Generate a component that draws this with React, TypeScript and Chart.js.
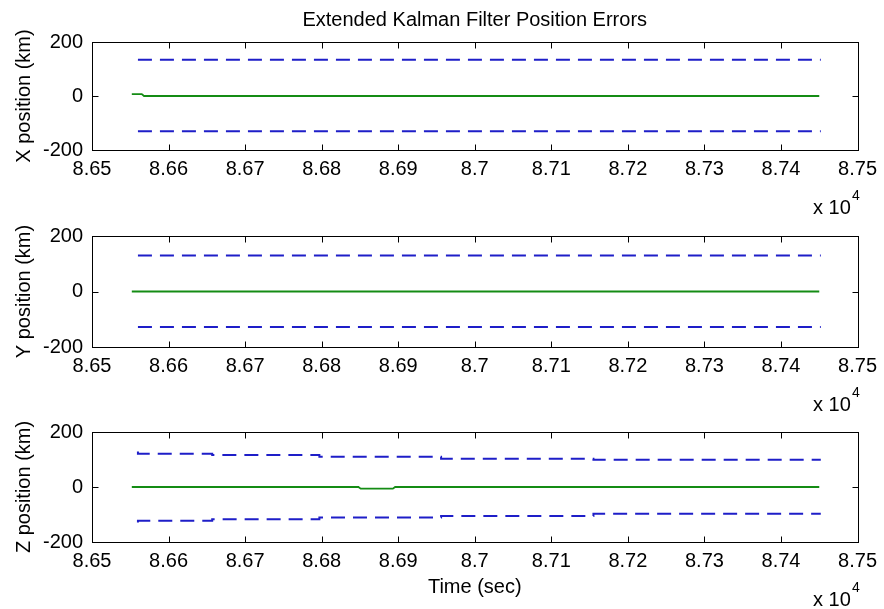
import React, { useEffect, useRef } from "react";
import { Chart, registerables } from "chart.js";
Chart.register(...registerables);

// ---------- text ----------
const TITLE = "Extended Kalman Filter Position Errors";
const X_LABEL = "Time (sec)";
const Y_LABELS = ["X position (km)", "Y position (km)", "Z position (km)"];

// ---------- axis ranges ----------
const X_MIN = 86500;
const X_MAX = 87500;
const X_STEP = 100;
const Y_MIN = -200;
const Y_MAX = 200;
const Y_STEP = 200;

// ---------- X position ----------
const xErrTime = [86552, 86565, 86568, 87450];
const xErrVal = [7, 7, 0, 0];
const xBoundTime = [86560, 87452];
const xUpper = [134, 134];
const xLower = [-131, -131];

// ---------- Y position ----------
const yErrTime = [86552, 87450];
const yErrVal = [0, 0];
const yBoundTime = [86560, 87452];
const yUpper = [130, 130];
const yLower = [-128, -128];

// ---------- Z position ----------
const zErrTime = [86552, 86848, 86851, 86893, 86896, 87450];
const zErrVal = [0, 0, -6, -6, 0, 0];
const zBoundTime = [86560, 86657, 86797, 86956, 87155, 87386, 87452];
const zUpper = [129, 121, 116, 110, 103, 99, 99];
const zLower = [-129, -123, -117, -111, -105, -97, -97];

// ---------- layout / style ----------
const W = 884;
const H = 609;
const PLOT_TOPS = [42, 236, 432];
const PLOT_BOTTOMS = [150, 347, 542];
const PLOT_LEFT = 92;
const PLOT_RIGHT_PAD = 23;
const FONT_FAMILY = "'Liberation Sans', Arial, Helvetica, sans-serif";
const GREEN = "rgb(20,140,20)";
const BLUE = "rgb(30,30,200)";

const SERIES = [
  { errT: xErrTime, errV: xErrVal, bT: xBoundTime, up: xUpper, lo: xLower },
  { errT: yErrTime, errV: yErrVal, bT: yBoundTime, up: yUpper, lo: yLower },
  { errT: zErrTime, errV: zErrVal, bT: zBoundTime, up: zUpper, lo: zLower },
];

const pts = (t: number[], v: number[]) => t.map((x, i) => ({ x, y: v[i] }));

function makePlugin(idx: number) {
  return {
    id: "matlabDecor" + idx,
    afterDraw(chart: any) {
      const { ctx, chartArea: a, scales } = chart;
      const xs = scales.x;
      const ys = scales.y;
      const L = Math.round(a.left) + 0.5;
      const R = Math.round(a.right) + 0.5;
      const T = Math.round(a.top) + 0.5;
      const B = Math.round(a.bottom) + 0.5;
      ctx.save();
      ctx.strokeStyle = "#000";
      ctx.lineWidth = 1;
      ctx.setLineDash([]);
      ctx.strokeRect(L, T, R - L, B - T);
      const tl = 6;
      ctx.beginPath();
      xs.ticks.forEach((t: any) => {
        const px = Math.round(xs.getPixelForValue(t.value)) + 0.5;
        ctx.moveTo(px, B);
        ctx.lineTo(px, B - tl);
        ctx.moveTo(px, T);
        ctx.lineTo(px, T + tl);
      });
      ys.ticks.forEach((t: any) => {
        const py = Math.round(ys.getPixelForValue(t.value)) + 0.5;
        ctx.moveTo(L, py);
        ctx.lineTo(L + tl, py);
        ctx.moveTo(R, py);
        ctx.lineTo(R - tl, py);
      });
      ctx.stroke();

      ctx.fillStyle = "#000";
      ctx.textBaseline = "middle";
      const cx = (a.left + a.right) / 2;
      if (idx === 0) {
        ctx.font = "20px " + FONT_FAMILY;
        ctx.textAlign = "center";
        ctx.fillText(TITLE, cx, 20);
      }
      if (idx === 2) {
        ctx.font = "20px " + FONT_FAMILY;
        ctx.textAlign = "center";
        ctx.fillText(X_LABEL, cx, a.bottom + 45);
      }
      ctx.textAlign = "left";
      ctx.font = "20px " + FONT_FAMILY;
      ctx.fillText("x 10", 813, a.bottom + 58);
      ctx.font = "14px " + FONT_FAMILY;
      ctx.fillText("4", 852, a.bottom + 46);
      ctx.restore();
    },
  };
}

function Plot({ idx }: { idx: number }) {
  const ref = useRef<HTMLCanvasElement | null>(null);
  useEffect(() => {
    if (!ref.current) return;
    const s = SERIES[idx];
    const font = { family: FONT_FAMILY, size: 20 };
    const chart = new Chart(ref.current, {
      type: "line",
      data: {
        datasets: [
          {
            data: pts(s.errT, s.errV),
            borderColor: GREEN,
            borderWidth: 1.8,
            pointRadius: 0,
          },
          {
            data: pts(s.bT, s.up),
            borderColor: BLUE,
            borderWidth: 2,
            borderDash: [14, 8],
            pointRadius: 0,
            stepped: "after",
          },
          {
            data: pts(s.bT, s.lo),
            borderColor: BLUE,
            borderWidth: 2,
            borderDash: [14, 8],
            pointRadius: 0,
            stepped: "after",
          },
        ],
      },
      options: {
        responsive: false,
        animation: false,
        devicePixelRatio: 1,
        events: [],
        layout: {
          padding: { top: PLOT_TOPS[idx], right: PLOT_RIGHT_PAD, left: 0, bottom: 0 },
        },
        plugins: {
          legend: { display: false },
          tooltip: { enabled: false },
          title: { display: false },
        },
        scales: {
          x: {
            type: "linear",
            min: X_MIN,
            max: X_MAX,
            afterFit: (sc: any) => {
              sc.height = H - PLOT_BOTTOMS[idx];
            },
            grid: { display: false, drawTicks: false },
            border: { display: false },
            ticks: {
              stepSize: X_STEP,
              autoSkip: false,
              maxRotation: 0,
              padding: 7,
              color: "#000",
              font,
              callback: (v: any) => String(Math.round(Number(v) / 10) / 1000),
            },
          },
          y: {
            type: "linear",
            min: Y_MIN,
            max: Y_MAX,
            afterFit: (sc: any) => {
              sc.width = PLOT_LEFT;
            },
            grid: { display: false, drawTicks: false },
            border: { display: false },
            ticks: {
              stepSize: Y_STEP,
              padding: 9,
              color: "#000",
              font,
            },
            title: {
              display: true,
              text: Y_LABELS[idx],
              color: "#000",
              font,
              padding: { top: 12, bottom: 0 },
            },
          },
        },
      },
      plugins: [makePlugin(idx)],
    } as any);
    return () => chart.destroy();
  }, [idx]);
  return (
    <canvas
      ref={ref}
      width={W}
      height={H}
      style={{ position: "absolute", left: 0, top: 0, width: W, height: H }}
    />
  );
}

export default function App() {
  return (
    <div
      style={{
        position: "absolute",
        left: 0,
        top: 0,
        width: W,
        height: H,
        background: "#fff",
      }}
    >
      <Plot idx={0} />
      <Plot idx={1} />
      <Plot idx={2} />
    </div>
  );
}
